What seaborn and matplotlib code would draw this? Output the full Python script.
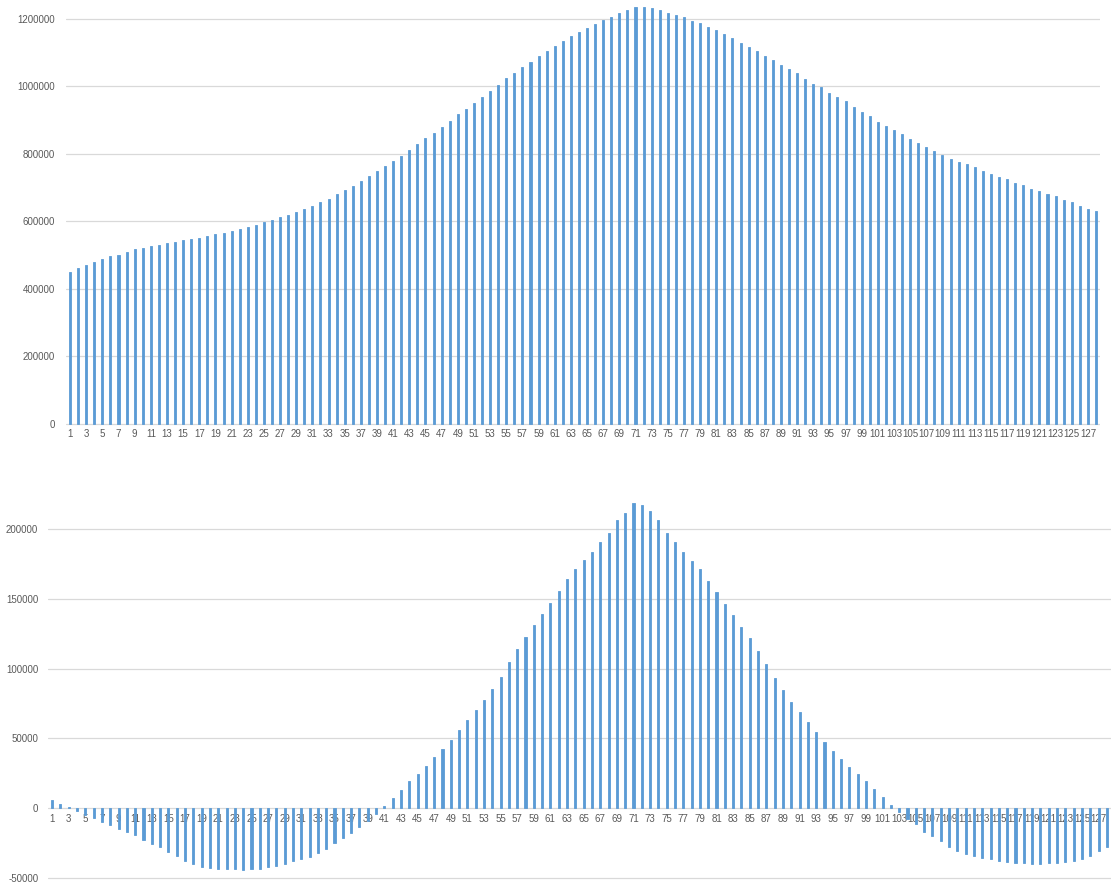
import matplotlib
matplotlib.use("Agg")
import matplotlib.pyplot as plt
import seaborn as sns
from pandas import DataFrame

# categories 1..128
periods = [str(i) for i in range(1, 129)]

# upper chart: level per period
level = [451000, 462000, 472000, 479000, 489000, 497000, 502000, 509000, 517000, 522000,
         526000, 531000, 536000, 539000, 544000, 547000, 552000, 557000, 562000, 567000,
         573000, 577000, 585000, 590000, 598000, 604000, 612000, 619000, 628000, 637000,
         647000, 657000, 668000, 680000, 692000, 705000, 720000, 735000, 748000, 763000,
         778000, 795000, 811000, 829000, 846000, 863000, 881000, 899000, 917000, 933000,
         951000, 968000, 987000, 1005000, 1024000, 1039000, 1057000, 1072000, 1089000, 1104000,
         1119000, 1134000, 1150000, 1161000, 1174000, 1184000, 1197000, 1205000, 1217000, 1225000,
         1235000, 1235000, 1232000, 1227000, 1217000, 1212000, 1205000, 1194000, 1187000, 1177000,
         1167000, 1155000, 1142000, 1129000, 1116000, 1104000, 1091000, 1079000, 1064000, 1051000,
         1039000, 1023000, 1008000, 997000, 981000, 968000, 956000, 940000, 925000, 911000,
         896000, 883000, 870000, 858000, 845000, 833000, 820000, 810000, 798000, 786000,
         777000, 769000, 760000, 750000, 742000, 732000, 725000, 715000, 707000, 697000,
         689000, 682000, 675000, 665000, 657000, 647000, 637000, 630000]

# lower chart: deviation per period
deviation = [6000, 3300, 1000, -2000, -5000, -7100, -9500, -12100, -14800, -17100,
             -19500, -22400, -25500, -27900, -31000, -34000, -37900, -39800, -42400, -42900,
             -43800, -43600, -43600, -44300, -43800, -43300, -42400, -41200, -40000, -38100,
             -36700, -35000, -32400, -29000, -25200, -21400, -17600, -13300, -9000, -3800,
             1400, 7600, 13300, 19300, 24800, 30000, 36400, 42100, 49000, 56000,
             62900, 70000, 77400, 85500, 94300, 104500, 114000, 122900, 131000, 139300,
             146900, 155700, 163800, 171400, 177600, 183600, 190500, 196900, 206400, 211200,
             218300, 216900, 212600, 206200, 196900, 190500, 183600, 177100, 171000, 162900,
             154500, 146200, 138100, 130000, 121700, 112900, 103600, 93300, 84300, 76400,
             68600, 61400, 54800, 47600, 40700, 35000, 29500, 24300, 19300, 13600,
             7900, 2100, -2600, -7900, -11400, -16700, -20200, -23800, -27400, -30500,
             -33100, -34300, -35500, -36700, -37900, -38600, -39000, -39500, -40000, -39800,
             -39500, -39300, -38800, -38100, -36700, -34000, -30500, -28100]

top_ticks = [0, 200000, 400000, 600000, 800000, 1000000, 1200000]
bottom_ticks = [-50000, 0, 50000, 100000, 150000, 200000]

BLUE = "#5B9BD5"
GRID = "#D9D9D9"
TEXT = "#595959"

sns.set_style("white")
plt.rcParams["font.family"] = ["Liberation Sans Narrow", "Liberation Sans", "DejaVu Sans"]

df = DataFrame({"period": periods, "level": level, "deviation": deviation})

fig = plt.figure(figsize=(11.11, 8.83), dpi=100)
ax_top = fig.add_axes([66 / 1111, 1 - 426 / 883, 1034 / 1111, 426 / 883])
ax_bot = fig.add_axes([48 / 1111, 1 - 881 / 883, 1063 / 1111, 382 / 883])


def style(ax, ticks, ylim, ypad):
    ax.set_axisbelow(True)
    ax.set_ylim(*ylim)
    ax.set_yticks(ticks)
    ax.set_yticklabels([str(t) for t in ticks])
    ax.yaxis.grid(True, color=GRID, linewidth=0.9)
    ax.xaxis.grid(False)
    for s in ax.spines.values():
        s.set_visible(False)
    ax.set_xlim(-0.5, 127.5)
    ax.set_xticks(range(0, 128, 2))
    ax.set_xticklabels(periods[::2])
    ax.tick_params(axis="both", length=0, colors=TEXT, labelsize=7)
    ax.tick_params(axis="y", pad=ypad)
    ax.tick_params(axis="x", pad=4)
    ax.set_xlabel("")
    ax.set_ylabel("")


bar_kw = dict(color=BLUE, saturation=1, width=0.25, edgecolor=BLUE, linewidth=0.6)

sns.barplot(data=df, x="period", y="level", ax=ax_top, **bar_kw)
# 2 px of margin under the zero line
style(ax_top, top_ticks, (-5900, 1256000), 8)
ax_top.tick_params(axis="x", pad=2)

sns.barplot(data=df, x="period", y="deviation", ax=ax_bot, **bar_kw)
style(ax_bot, bottom_ticks, (-52100, 221400), 7)
# category labels sit next to the zero line
ax_bot.spines["bottom"].set_position(("data", 0))

fig.savefig("out.png", dpi=100)
